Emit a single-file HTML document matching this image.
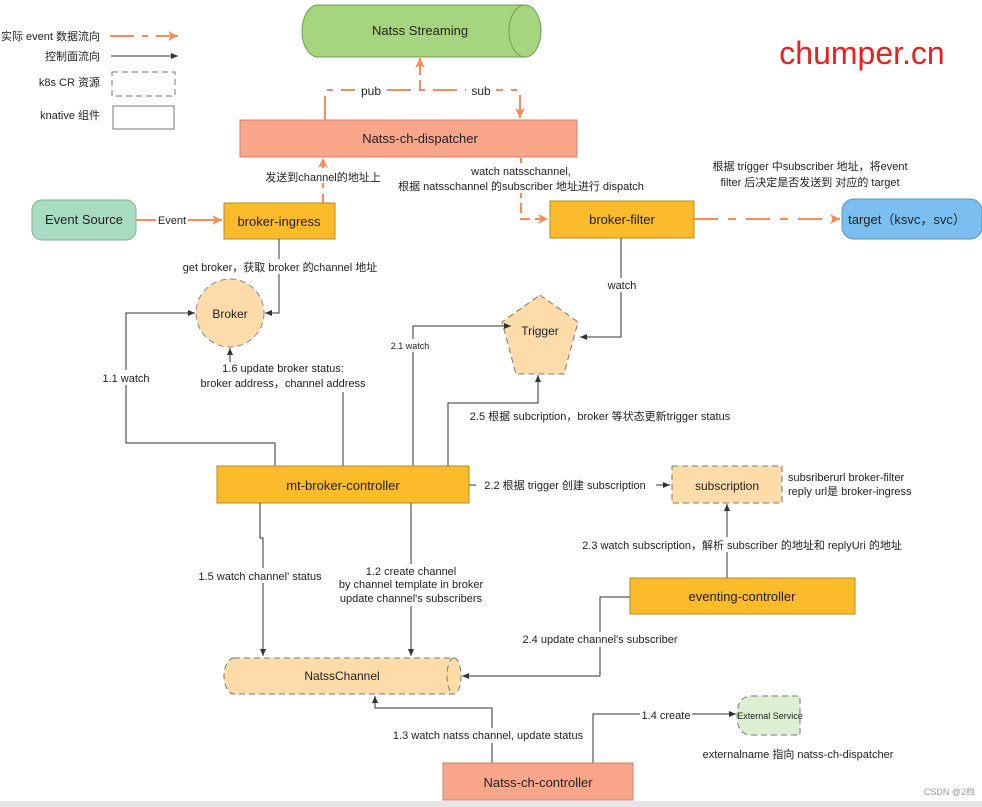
<!DOCTYPE html>
<html><head><meta charset="utf-8"><style>
html,body{margin:0;padding:0;background:#fff;}
svg{display:block;font-family:"Liberation Sans","Noto Sans CJK SC",sans-serif;}
text{fill:#222;}
</style></head><body>
<svg width="982" height="807" viewBox="0 0 982 807" xmlns="http://www.w3.org/2000/svg">
<defs>
<marker id="ga" markerWidth="8" markerHeight="8" refX="7" refY="4" orient="auto" markerUnits="userSpaceOnUse"><path d="M0,1 L7,4 L0,7 z" fill="#333"/></marker>
<marker id="oa" markerWidth="12" markerHeight="12" refX="10" refY="6" orient="auto" markerUnits="userSpaceOnUse"><path d="M0,1 L10,6 L0,11 L3,6 z" fill="#f98a5a"/></marker>
</defs>
<!-- legend -->
<g font-size="11" text-anchor="end">
<text x="100" y="40">实际 event 数据流向</text>
<text x="100" y="60">控制面流向</text>
<text x="100" y="86">k8s CR 资源</text>
<text x="100" y="119">knative 组件</text>
</g>
<line x1="110" y1="36" x2="178" y2="36" stroke="#f98a5a" stroke-width="2" stroke-dasharray="24,8,6,8" marker-end="url(#oa)"/>
<line x1="111" y1="56" x2="178" y2="56" stroke="#333" stroke-width="1" marker-end="url(#ga)"/>
<rect x="112" y="72" width="63" height="24" fill="none" stroke="#777" stroke-dasharray="6,4"/>
<rect x="113" y="106" width="61" height="23" fill="none" stroke="#777"/>
<!-- chumper -->
<text x="862" y="64" font-size="32" text-anchor="middle" style="fill:#e8201e">chumper.cn</text>
<!-- Natss Streaming -->
<path d="M318,5 H525 A16,26 0 0 1 525,57 H318 A16,26 0 0 1 318,5 z" fill="#a5d67f" stroke="#6f9e4d"/>
<path d="M525,5 A16,26 0 0 0 525,57" fill="none" stroke="#6f9e4d"/>
<text x="420" y="35" font-size="13" text-anchor="middle">Natss Streaming</text>
<!-- pub/sub -->
<path d="M325,120 V90 H520 V118" fill="none" stroke="#f98a5a" stroke-width="2" stroke-dasharray="24,8,6,8" marker-end="url(#oa)"/>
<line x1="420" y1="90" x2="420" y2="58" stroke="#f98a5a" stroke-width="2" stroke-dasharray="10,5" marker-end="url(#oa)"/>
<rect x="355" y="82" width="32" height="16" fill="#fff"/>
<text x="371" y="95" font-size="12" text-anchor="middle">pub</text>
<rect x="466" y="82" width="30" height="16" fill="#fff"/>
<text x="481" y="95" font-size="12" text-anchor="middle">sub</text>
<!-- dispatcher -->
<rect x="240" y="120" width="337" height="37" fill="#f9a68b" stroke="#c98670"/>
<text x="420" y="143" font-size="13" text-anchor="middle">Natss-ch-dispatcher</text>
<line x1="323" y1="220" x2="323" y2="158" stroke="#f98a5a" stroke-width="2" stroke-dasharray="10,6" marker-end="url(#oa)"/>
<rect x="258" y="168" width="130" height="15" fill="#fff"/>
<text x="323" y="181" font-size="11" text-anchor="middle">发送到channel的地址上</text>
<path d="M521,158 V219 H548" fill="none" stroke="#f98a5a" stroke-width="2" stroke-dasharray="10,5" marker-end="url(#oa)"/>
<rect x="400" y="163" width="258" height="30" fill="#fff"/>
<text x="521" y="175" font-size="11" text-anchor="middle">watch natsschannel,</text>
<text x="521" y="190" font-size="11" text-anchor="middle">根据 natsschannel 的subscriber 地址进行 dispatch</text>
<!-- event source -->
<rect x="32" y="200" width="104" height="40" rx="10" fill="#a8dcc0" stroke="#7fae95"/>
<text x="84" y="224" font-size="13" text-anchor="middle">Event Source</text>
<line x1="136" y1="220" x2="222" y2="220" stroke="#f98a5a" stroke-width="2" marker-end="url(#oa)"/>
<rect x="156" y="213" width="32" height="14" fill="#fff"/>
<text x="172" y="224" font-size="11" text-anchor="middle">Event</text>
<rect x="224" y="203" width="111" height="36" fill="#fbbb2b" stroke="#b98a20"/>
<text x="279" y="226" font-size="13" text-anchor="middle">broker-ingress</text>
<!-- broker-filter -->
<rect x="550" y="201" width="144" height="37" fill="#fbbb2b" stroke="#b98a20"/>
<text x="622" y="224" font-size="13" text-anchor="middle">broker-filter</text>
<line x1="694" y1="219" x2="840" y2="219" stroke="#f98a5a" stroke-width="2" stroke-dasharray="24,10,8,10" marker-end="url(#oa)"/>
<rect x="842" y="199" width="140" height="40" rx="12" fill="#7bbef0" stroke="#5b95c4"/>
<text x="907" y="224" font-size="13" text-anchor="middle">target（ksvc，svc）</text>
<text x="810" y="170" font-size="11" text-anchor="middle">根据 trigger 中subscriber 地址，将event</text>
<text x="810" y="186" font-size="11" text-anchor="middle">filter 后决定是否发送到 对应的 target</text>
<!-- broker -->
<path d="M279,239 V313 H265" fill="none" stroke="#333" marker-end="url(#ga)"/>
<rect x="175" y="259" width="210" height="15" fill="#fff"/>
<text x="280" y="271" font-size="11" text-anchor="middle">get broker，获取 broker 的channel 地址</text>
<circle cx="230" cy="313" r="34" fill="#fddcaa" stroke="#888" stroke-dasharray="6,4"/>
<text x="230" y="318" font-size="12" text-anchor="middle">Broker</text>
<path d="M275,466 V443 H126 V313 H195" fill="none" stroke="#333" marker-end="url(#ga)"/>
<rect x="98" y="370" width="58" height="15" fill="#fff"/>
<text x="126" y="382" font-size="11" text-anchor="middle">1.1 watch</text>
<line x1="343" y1="466" x2="343" y2="392" stroke="#333"/>
<line x1="230" y1="362" x2="230" y2="348" stroke="#333" marker-end="url(#ga)"/>
<text x="283" y="372" font-size="11" text-anchor="middle">1.6 update broker status:</text>
<text x="283" y="387" font-size="11" text-anchor="middle">broker address，channel address</text>
<!-- trigger -->
<path d="M621,238 V337 H580" fill="none" stroke="#333" marker-end="url(#ga)"/>
<rect x="605" y="278" width="34" height="14" fill="#fff"/>
<text x="622" y="289" font-size="11" text-anchor="middle">watch</text>
<polygon points="540,295 578,322 564,374 516,374 502,322" fill="#fddcaa" stroke="#777" stroke-dasharray="6,4"/>
<text x="540" y="335" font-size="12" text-anchor="middle">Trigger</text>
<path d="M413,466 V326 H511" fill="none" stroke="#333" marker-end="url(#ga)"/>
<rect x="385" y="339" width="50" height="13" fill="#fff"/>
<text x="410" y="349" font-size="9" text-anchor="middle">2.1 watch</text>
<path d="M448,466 V403 H538 V375" fill="none" stroke="#333" marker-end="url(#ga)"/>
<text x="600" y="420" font-size="11" text-anchor="middle">2.5 根据 subcription，broker 等状态更新trigger status</text>
<!-- mt-broker-controller -->
<rect x="217" y="466" width="252" height="37" fill="#fbbb2b" stroke="#b98a20"/>
<text x="343" y="490" font-size="13" text-anchor="middle">mt-broker-controller</text>
<line x1="469" y1="485" x2="670" y2="485" stroke="#333" marker-end="url(#ga)"/>
<rect x="476" y="478" width="180" height="14" fill="#fff"/>
<text x="565" y="489" font-size="11" text-anchor="middle">2.2 根据 trigger 创建 subscription</text>
<rect x="672" y="466" width="110" height="37" fill="#fddcaa" stroke="#777" stroke-dasharray="6,4"/>
<text x="727" y="490" font-size="12" text-anchor="middle">subscription</text>
<text x="788" y="481" font-size="11">subsriberurl broker-filter</text>
<text x="788" y="495" font-size="11">reply url是 broker-ingress</text>
<!-- eventing-controller -->
<line x1="727" y1="578" x2="727" y2="504" stroke="#333" marker-end="url(#ga)"/>
<rect x="568" y="537" width="350" height="15" fill="#fff"/>
<text x="742" y="549" font-size="11" text-anchor="middle">2.3 watch subscription，解析 subscriber 的地址和 replyUri 的地址</text>
<rect x="630" y="578" width="225" height="36" fill="#fbbb2b" stroke="#b98a20"/>
<text x="742" y="601" font-size="13" text-anchor="middle">eventing-controller</text>
<path d="M630,597 H600 V676 H462" fill="none" stroke="#333" marker-end="url(#ga)"/>
<rect x="512" y="632" width="176" height="15" fill="#fff"/>
<text x="600" y="643" font-size="11" text-anchor="middle">2.4 update channel's subscriber</text>
<!-- 1.5 and 1.2 -->
<path d="M260,503 V538 H263 V656" fill="none" stroke="#333" marker-end="url(#ga)"/>
<rect x="190" y="568" width="140" height="15" fill="#fff"/>
<text x="260" y="580" font-size="11" text-anchor="middle">1.5 watch channel' status</text>
<line x1="411" y1="503" x2="411" y2="656" stroke="#333" marker-end="url(#ga)"/>
<rect x="330" y="564" width="165" height="42" fill="#fff"/>
<text x="411" y="575" font-size="11" text-anchor="middle">1.2 create channel</text>
<text x="411" y="588" font-size="11" text-anchor="middle">by channel template in broker</text>
<text x="411" y="602" font-size="11" text-anchor="middle">update channel's subscribers</text>
<!-- NatssChannel -->
<path d="M234,658 H454 A7,18 0 0 1 454,694 H234 A10,18 0 0 1 234,658 z" fill="#fddcaa" stroke="#777" stroke-dasharray="6,4"/>
<path d="M454,658 A7,18 0 0 0 454,694" fill="none" stroke="#777" stroke-dasharray="6,4"/>
<text x="342" y="680" font-size="12" text-anchor="middle">NatssChannel</text>
<!-- natss-ch-controller -->
<path d="M492,763 V708 H375 V696" fill="none" stroke="#333" marker-end="url(#ga)"/>
<rect x="382" y="728" width="212" height="15" fill="#fff"/>
<text x="488" y="739" font-size="11" text-anchor="middle">1.3 watch natss channel, update status</text>
<path d="M593,763 V714 H736" fill="none" stroke="#333" marker-end="url(#ga)"/>
<rect x="640" y="708" width="52" height="14" fill="#fff"/>
<text x="666" y="719" font-size="11" text-anchor="middle">1.4 create</text>
<path d="M752,696 H800 V735 H752 Q737,735 737,716 Q737,696 752,696 z" fill="#dcefd3" stroke="#777" stroke-dasharray="6,4"/>
<text x="770" y="719" font-size="9" text-anchor="middle">External Service</text>
<text x="798" y="758" font-size="11" text-anchor="middle">externalname 指向 natss-ch-dispatcher</text>
<rect x="443" y="763" width="190" height="37" fill="#f9a68b" stroke="#c98670"/>
<text x="538" y="787" font-size="13" text-anchor="middle">Natss-ch-controller</text>
<rect x="0" y="801" width="982" height="6" fill="#e6e6e6"/>
<text x="975" y="795" font-size="9" text-anchor="end" style="fill:#999">CSDN @2档</text>
</svg>
</body></html>
